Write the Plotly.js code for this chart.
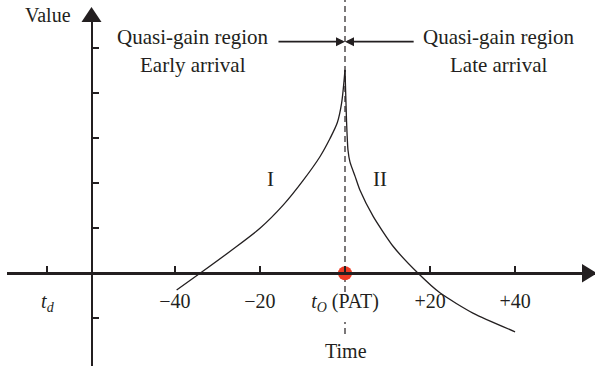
<!DOCTYPE html>
<html>
<head>
<meta charset="utf-8">
<script src="https://cdn.plot.ly/plotly-3.0.1.min.js"></script>
<style>html,body{margin:0;padding:0;background:#fff;}#chart{width:595px;height:366px;}</style>
</head>
<body>
<div id="chart"></div>
<script>
// ---- data ----
const earlyTime  = [-39.6, -34.1, -27, -20, -14.5, -9.8, -5.9, -3.5, -1.8, -0.8, 0];
const earlyValue = [-0.37, 0, 0.49, 1.0, 1.52, 2.07, 2.59, 3.0, 3.35, 3.78, 4.52];
const lateTime   = [0, 0.35, 0.7, 1.18, 2.35, 3.5, 6.66, 11.4, 17.2, 22.4, 30.2, 40];
const lateValue  = [4.52, 3.41, 2.74, 2.47, 2.16, 1.85, 1.26, 0.59, 0, -0.44, -0.89, -1.30];
const patTime = [0];
const patValue = [0];
const xTickVals = [-70, -40, -20, 0, 20, 40];
const xTickText = ['<i>t</i><sub><i>d</i></sub>', '\u221240', '\u221220', '<i>t</i><sub><i>O</i></sub> (PAT)', '+20', '+40'];
const yTickVals = [-1, 1, 2, 3, 4, 5];

const ink = '#231f20';
const W = 595, H = 366;
const X = px => px / W;
const Y = py => 1 - py / H;
const font = {family: 'Liberation Serif, Times New Roman, serif', size: 20, color: ink};
const bigFont = {family: 'Liberation Serif, Times New Roman, serif', size: 21, color: ink};

const traces = [
  {x: earlyTime, y: earlyValue, mode: 'lines', line: {color: ink, width: 1.3, shape: 'spline', smoothing: 0.8}, hoverinfo: 'skip'},
  {x: lateTime, y: lateValue, mode: 'lines', line: {color: ink, width: 1.3, shape: 'spline', smoothing: 0.6}, hoverinfo: 'skip'},
  {x: patTime, y: patValue, mode: 'markers', marker: {color: '#ee3b24', size: 14}, cliponaxis: false, hoverinfo: 'skip'}
];

const tri = pts => 'M' + pts.map(p => X(p[0]) + ',' + Y(p[1])).join(' L') + ' Z';

const layout = {
  width: W, height: H,
  margin: {l: 0, r: 0, t: 0, b: 0},
  paper_bgcolor: '#fff', plot_bgcolor: 'rgba(0,0,0,0)',
  showlegend: false,
  font: font,
  xaxis: {
    domain: [7 / W, 1], range: [-79.5, 58.8],
    anchor: 'free', position: Y(273.3),
    showline: true, linecolor: ink, linewidth: 2.5,
    showgrid: false, zeroline: false,
    ticks: 'inside', ticklen: 6, tickwidth: 2, tickcolor: ink,
    tickvals: xTickVals, ticktext: xTickText,
    ticklabelstandoff: 9,
    tickfont: font
  },
  yaxis: {
    domain: [0, 1 - 12 / H], range: [-2.06, 5.807],
    anchor: 'free', position: X(91.5),
    showline: true, linecolor: ink, linewidth: 2.5,
    showgrid: false, zeroline: false,
    ticks: 'inside', ticklen: 6, tickwidth: 2, tickcolor: ink,
    tickvals: yTickVals, showticklabels: false
  },
  shapes: [
    {type: 'line', xref: 'x', yref: 'paper', x0: 0, x1: 0, y0: Y(292), y1: 1,
     line: {color: ink, width: 1.2, dash: '6px,4px'}, layer: 'below'},
    {type: 'line', xref: 'x', yref: 'paper', x0: 0, x1: 0, y0: Y(334), y1: Y(322),
     line: {color: ink, width: 1.2, dash: '6px,4px'}, layer: 'below'},
    {type: 'path', xref: 'paper', yref: 'paper', path: tri([[597, 273.3], [582, 264], [582, 282.6]]),
     fillcolor: ink, line: {width: 0}},
    {type: 'path', xref: 'paper', yref: 'paper', path: tri([[91.5, 7], [81.5, 22], [101.5, 22]]),
     fillcolor: ink, line: {width: 0}}
  ],
  annotations: [
    {x: 0, y: 5.147, ax: -16, ay: 5.147, xref: 'x', yref: 'y', axref: 'x', ayref: 'y', text: '',
     showarrow: true, arrowhead: 2, arrowsize: 1, arrowwidth: 1.8, arrowcolor: ink, standoff: 0},
    {x: 0, y: 5.147, ax: 16.5, ay: 5.147, xref: 'x', yref: 'y', axref: 'x', ayref: 'y', text: '',
     showarrow: true, arrowhead: 2, arrowsize: 1, arrowwidth: 1.8, arrowcolor: ink, standoff: 0},
    {x: -35.8, y: 5.25, text: 'Quasi-gain region', showarrow: false, font: bigFont},
    {x: -35.8, y: 4.63, text: 'Early arrival', showarrow: false, font: bigFont},
    {x: 36.2, y: 5.25, text: 'Quasi-gain region', showarrow: false, font: bigFont},
    {x: 36.2, y: 4.63, text: 'Late arrival', showarrow: false, font: bigFont},
    {x: -17.6, y: 2.1, text: 'I', showarrow: false, font: bigFont},
    {x: 8.2, y: 2.1, text: 'II', showarrow: false, font: bigFont},
    {x: -69.9, y: 5.74, text: 'Value', showarrow: false, font: font},
    {x: 0.2, y: -1.73, text: 'Time', showarrow: false, font: font}
  ]
};

Plotly.newPlot('chart', traces, layout, {staticPlot: true, displayModeBar: false});
</script>
</body>
</html>
